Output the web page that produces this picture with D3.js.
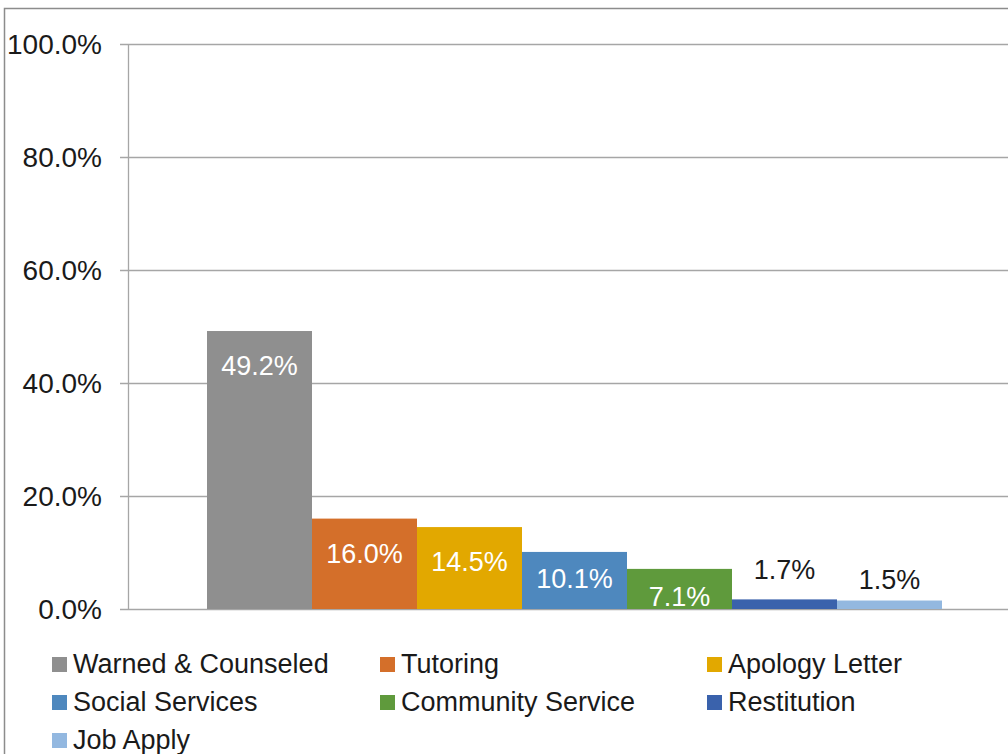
<!DOCTYPE html>
<html>
<head>
<meta charset="utf-8">
<script src="https://cdn.jsdelivr.net/npm/d3@7"></script>
<style>
  html, body { margin: 0; padding: 0; background: #fff; overflow: hidden; }
  svg { display: block; font-family: "Liberation Sans", Arial, sans-serif; }
</style>
</head>
<body>
<div id="chart"></div>
<script>
const seriesNames = ["Warned & Counseled", "Tutoring", "Apology Letter", "Social Services",
                     "Community Service", "Restitution", "Job Apply"];
const seriesValues = [0.492, 0.160, 0.145, 0.101, 0.071, 0.017, 0.015];
const seriesColors = ["#8f8f8f", "#d46f2a", "#e2a800", "#4e88be", "#5f9a3c", "#3a62ac", "#93b8e0"];
const yTicks = [0, 0.2, 0.4, 0.6, 0.8, 1.0];

const width = 1008, height = 754;
const svg = d3.select("#chart").append("svg")
  .attr("width", width).attr("height", height);

// outer chart border (cut at right / bottom like the source)
svg.append("rect")
  .attr("x", 4.5).attr("y", 8.5)
  .attr("width", 1100).attr("height", 900)
  .attr("fill", "none").attr("stroke", "#8c8c8c").attr("stroke-width", 1.5);

const y = d3.scaleLinear().domain([0, 1]).range([609, 44]);
const x = d3.scaleBand().domain(seriesNames).range([207, 942]).padding(0);
const fmt = d3.format(".1%");

// gridlines
svg.append("g").selectAll("line")
  .data(yTicks)
  .join("line")
  .attr("x1", 120).attr("x2", width)
  .attr("y1", d => Math.round(y(d)) + 0.5).attr("y2", d => Math.round(y(d)) + 0.5)
  .attr("stroke", "#a6a6a6").attr("stroke-width", 1.3);

// tick labels
svg.append("g").selectAll("text")
  .data(yTicks)
  .join("text")
  .attr("x", 102).attr("y", d => y(d) + 10)
  .attr("text-anchor", "end")
  .attr("font-size", 28).attr("fill", "#1a1a1a")
  .text(d => fmt(d));

// bars
const data = seriesNames.map((name, i) => ({ name, value: seriesValues[i], color: seriesColors[i] }));

svg.append("g").selectAll("rect")
  .data(data)
  .join("rect")
  .attr("x", d => x(d.name))
  .attr("y", d => y(d.value))
  .attr("width", x.bandwidth())
  .attr("height", d => y(0) - y(d.value))
  .attr("fill", d => d.color);

// axis line
svg.append("line")
  .attr("x1", 128.5).attr("x2", 128.5)
  .attr("y1", y(1)).attr("y2", y(0) + 1)
  .attr("stroke", "#a6a6a6").attr("stroke-width", 1.3);

// data labels: inside end where they fit, above otherwise
const clip = svg.append("clipPath").attr("id", "plotclip");
clip.append("rect").attr("x", 0).attr("y", 0).attr("width", width).attr("height", y(0));

svg.append("g").attr("clip-path", "url(#plotclip)").selectAll("text")
  .data(data)
  .join("text")
  .attr("x", d => x(d.name) + x.bandwidth() / 2)
  .attr("y", (d, i) => {
    const top = y(d.value), h = y(0) - top;
    if (h > 50) return Math.min(top + 44, y(0) - 21);
    if (h > 30) return y(0) - 3;
    return i === seriesNames.length - 1 ? top - 12 : top - 20;
  })
  .attr("text-anchor", "middle")
  .attr("font-size", 27)
  .attr("fill", d => (y(0) - y(d.value) > 30 ? "#ffffff" : "#1a1a1a"))
  .text(d => fmt(d.value));

// legend
const legendCols = [52, 380, 707];
const legend = svg.append("g").selectAll("g")
  .data(data)
  .join("g")
  .attr("transform", (d, i) => `translate(${legendCols[i % 3]},${657 + Math.floor(i / 3) * 38})`);

legend.append("rect")
  .attr("width", 15).attr("height", 15)
  .attr("fill", d => d.color);

legend.append("text")
  .attr("x", 21).attr("y", 16)
  .attr("font-size", 27).attr("fill", "#1a1a1a")
  .text(d => d.name);
</script>
</body>
</html>
